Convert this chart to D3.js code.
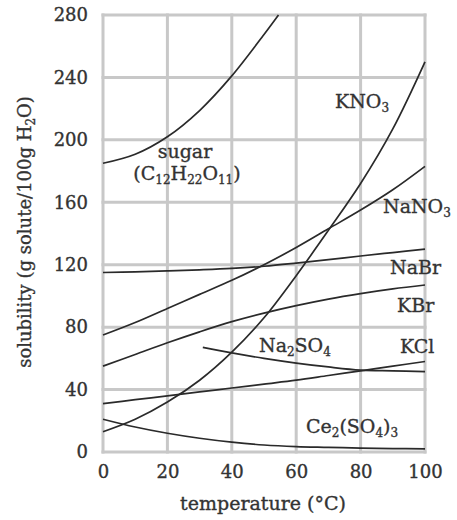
<!DOCTYPE html>
<html><head><meta charset="utf-8">
<script src="https://cdn.jsdelivr.net/npm/d3@7/dist/d3.min.js"></script>
<style>
html,body{margin:0;padding:0;background:#fff;}
text{font-family:"DejaVu Serif","Liberation Serif",serif;fill:#333;stroke:#333;stroke-width:0.35;}
</style></head>
<body><svg id="c" width="457" height="520"></svg>
<script>
const xTicks = [0,20,40,60,80,100];
const yTicks = [0,40,80,120,160,200,240,280];
const temps = [0,10,20,30,40,50,60,70,80,90,100];
const kno3  = [13,21,32,46,64,86,113,142,172,207,250];
const nano3 = [75,83,92,101,110,120,131,143,155,168,183];
const nabr  = [115,115.4,116,116.7,117.6,119,121,123.2,125.6,127.8,130];
const kbr   = [55,62.5,70,77,83.5,89,93.8,98,101.5,104.5,107];
const kcl   = [31,33.5,36,38.5,41,43.5,46,49,52,55,58];
const ce2so43 = [21,16,12,8.8,6.3,4.5,3.5,3,2.5,2.2,2];
const sugarT = [0,10,20,30,40,50,54.5];
const sugarV = [185,190.8,202,218.8,241,267.5,280];
const na2so4T = [31,40,50,60,70,80,90,100];
const na2so4V = [67,63.5,60,57,54.5,52.5,52,51.5];

const svg = d3.select("#c");
const x = d3.scaleLinear().domain([0,100]).range([103,425]);
const y = d3.scaleLinear().domain([0,280]).range([452,15]);

// grid
const g = svg.append("g");
g.selectAll("line.v").data(xTicks).join("line")
  .attr("x1",d=>x(d)).attr("x2",d=>x(d)).attr("y1",y(0)+1.5).attr("y2",y(280)-1.5)
  .attr("stroke","#c8c8c8").attr("stroke-width",3);
g.selectAll("line.h").data(yTicks).join("line")
  .attr("y1",d=>y(d)).attr("y2",d=>y(d)).attr("x1",x(0)-1.5).attr("x2",x(100)+1.5)
  .attr("stroke","#c8c8c8").attr("stroke-width",3);

// axes
const xAxis = d3.axisBottom(x).tickValues(xTicks).tickSize(0).tickPadding(0);
const xa = svg.append("g").attr("transform",`translate(0,${y(0)})`).call(xAxis);
xa.select(".domain").remove();
xa.selectAll("text").attr("font-size",18).attr("dy",null).attr("y",26)
  .style("font-family","DejaVu Serif").attr("fill","#333");
const yAxis = d3.axisLeft(y).tickValues(yTicks).tickSize(0).tickPadding(0);
const ya = svg.append("g").attr("transform",`translate(88,0)`).call(yAxis);
ya.select(".domain").remove();
ya.selectAll("text").attr("font-size",18).attr("x",0)
  .style("font-family","DejaVu Serif").attr("fill","#333");

// curves
const line = d3.line().x(d=>x(d[0])).y(d=>y(d[1])).curve(d3.curveCatmullRom.alpha(0.5));
const series = [
  d3.zip(temps,kno3), d3.zip(temps,nano3), d3.zip(temps,nabr), d3.zip(temps,kbr),
  d3.zip(temps,kcl), d3.zip(temps,ce2so43), d3.zip(sugarT,sugarV), d3.zip(na2so4T,na2so4V)
];
svg.append("g").selectAll("path").data(series).join("path")
  .attr("d",line).attr("fill","none").attr("stroke","#2a2a2a").attr("stroke-width",1.7);

// labels
function label(xp, yp, parts, anchor){
  const t = svg.append("text").attr("x",xp).attr("y",yp).attr("font-size",19)
    .attr("text-anchor",anchor||"start");
  parts.forEach(p=>{
    if(typeof p === "string") t.append("tspan").text(p);
    else t.append("tspan").attr("font-size",12).attr("baseline-shift","-30%").text(p.sub);
  });
}
label(185,158,["sugar"],"middle");
label(187,180,["(C",{sub:"12"},"H",{sub:"22"},"O",{sub:"11"},")"],"middle");
label(335,108,["KNO",{sub:"3"}]);
label(383,213,["NaNO",{sub:"3"}]);
label(390,274,["NaBr"]);
label(397,312,["KBr"]);
label(400,353,["KCl"]);
label(259,352,["Na",{sub:"2"},"SO",{sub:"4"}]);
label(306,433,["Ce",{sub:"2"},"(SO",{sub:"4"},")",{sub:"3"}]);

// axis titles
svg.append("text").attr("x",263).attr("y",510).attr("text-anchor","middle")
  .attr("font-size",19).text("temperature (°C)");
const yt = svg.append("text").attr("transform","translate(31,232) rotate(-90)")
  .attr("text-anchor","middle").attr("font-size",18);
yt.append("tspan").text("solubility (g solute/100g H");
yt.append("tspan").attr("font-size",12).attr("baseline-shift","-30%").text("2");
yt.append("tspan").text("O)");
</script></body></html>
